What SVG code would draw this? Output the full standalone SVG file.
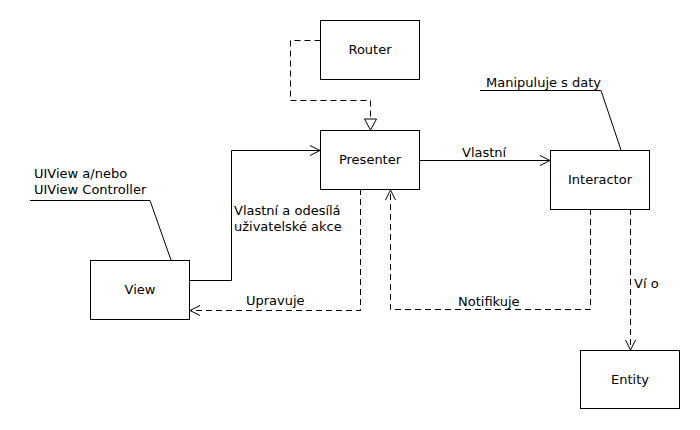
<svg xmlns="http://www.w3.org/2000/svg" width="700" height="430" viewBox="0 0 700 430">
<style>
.box{fill:#fff;stroke:#000;stroke-width:1}
.lbl{font-family:"DejaVu Sans",sans-serif;font-size:13px;fill:#000}
.c{text-anchor:middle}
.ln{fill:none;stroke:#000;stroke-width:1}
.d{stroke-dasharray:6,4}
</style>
<defs>
<marker id="open" markerWidth="12" markerHeight="12" refX="11" refY="6" orient="auto" markerUnits="userSpaceOnUse">
<path d="M1,1 L11,6 L1,11" fill="none" stroke="#000" stroke-width="1"/>
</marker>
<marker id="tri" markerWidth="14" markerHeight="14" refX="12" refY="7" orient="auto" markerUnits="userSpaceOnUse">
<path d="M1,1 L12,7 L1,13 Z" fill="#fff" stroke="#000" stroke-width="1"/>
</marker>
</defs>
<rect width="700" height="430" fill="#fff"/>
<g id="connectors">
<path class="ln d" d="M320.5,40.5 H290.5 V100.5 H370.5 V130" marker-end="url(#tri)"/>
<path class="ln" d="M189,280.5 H231.5 V150.5 H320" marker-end="url(#open)"/>
<path class="ln" d="M419,160.5 H550" marker-end="url(#open)"/>
<path class="ln d" d="M360.5,189 V310.5 H190" marker-end="url(#open)"/>
<path class="ln d" d="M590.5,209 V309.5 H390.5 V190" marker-end="url(#open)"/>
<path class="ln d" d="M630.5,209 V350" marker-end="url(#open)"/>
<path class="ln" d="M30,200.5 H150 L171,260"/>
<path class="ln" d="M480,90.5 H601 L621,150"/>
<text class="lbl" x="462" y="157">Vlastní</text>
<text class="lbl" x="234" y="215">Vlastní a odesílá</text>
<text class="lbl" x="234" y="231">uživatelské akce</text>
<text class="lbl" x="246" y="305">Upravuje</text>
<text class="lbl" x="458" y="306">Notifikuje</text>
<text class="lbl" x="634" y="288">Ví o</text>
<text class="lbl" x="486" y="87">Manipuluje s daty</text>
<text class="lbl" x="34" y="178">UIView a/nebo</text>
<text class="lbl" x="34" y="194">UIView Controller</text>
</g>
<g id="router"><rect class="box" x="320.5" y="20.5" width="99" height="59"/><text class="lbl c" x="370" y="54">Router</text></g>
<g id="presenter"><rect class="box" x="320.5" y="130.5" width="99" height="59"/><text class="lbl c" x="370" y="164">Presenter</text></g>
<g id="interactor"><rect class="box" x="550.5" y="150.5" width="99" height="59"/><text class="lbl c" x="600" y="184">Interactor</text></g>
<g id="view"><rect class="box" x="90.5" y="260.5" width="99" height="59"/><text class="lbl c" x="140" y="294">View</text></g>
<g id="entity"><rect class="box" x="580.5" y="350.5" width="99" height="58"/><text class="lbl c" x="630" y="384">Entity</text></g>
</svg>
